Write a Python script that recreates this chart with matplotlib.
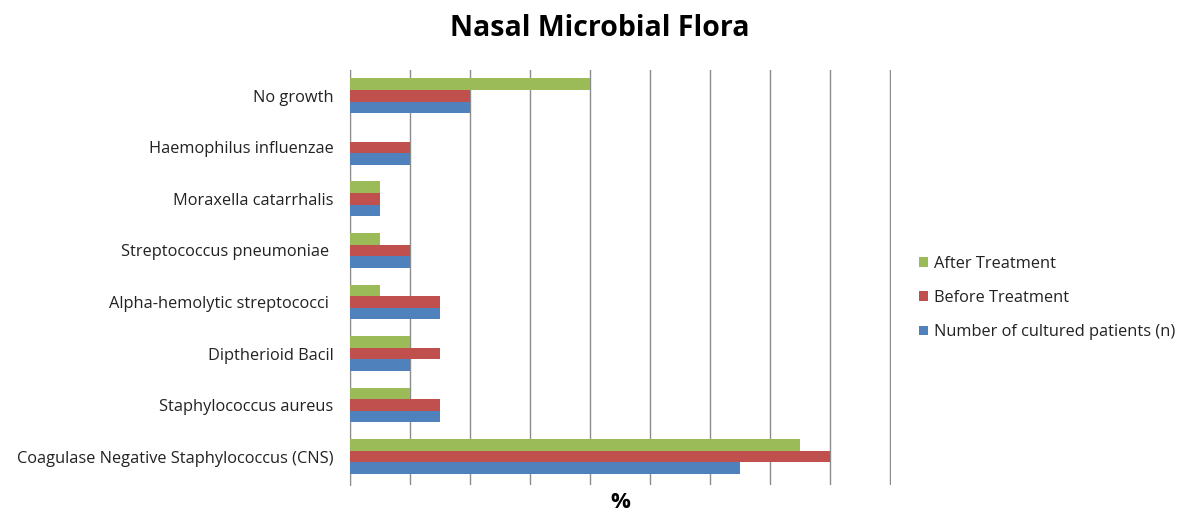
import numpy as np
import matplotlib.pyplot as plt

plt.rcParams['font.family'] = ['Open Sans', 'DejaVu Sans']

categories = ["Coagulase Negative Staphylococcus (CNS)", "Staphylococcus aureus",
              "Diptherioid Bacil", "Alpha-hemolytic streptococci ",
              "Streptococcus pneumoniae ", "Moraxella catarrhalis",
              "Haemophilus influenzae", "No growth"]
n_cultured = [32.5, 7.5, 5, 7.5, 5, 2.5, 5, 10]
before = [40, 7.5, 7.5, 7.5, 5, 2.5, 5, 10]
after = [37.5, 5, 5, 2.5, 2.5, 2.5, 0, 20]

green = "#9BBB59"
red = "#C0504D"
blue = "#4F81BD"

fig = plt.figure(figsize=(11.8, 5.14), dpi=100)
ax = fig.add_axes([350 / 1180, 1 - 485 / 514, 541 / 1180, 415 / 514])

y = np.arange(len(categories))
h = 0.225
ax.barh(y - h, n_cultured, height=h, color=blue, label="Number of cultured patients (n)", zorder=3)
ax.barh(y, before, height=h, color=red, label="Before Treatment", zorder=3)
ax.barh(y + h, after, height=h, color=green, label="After Treatment", zorder=3)

ax.set_xlim(0, 45.08)
ax.set_ylim(-0.55, 7.5)
ax.set_xticks(np.arange(0, 46, 5))
ax.set_xticklabels([])
ax.tick_params(axis='x', length=0)
ax.tick_params(axis='y', length=0, labelsize=11.8, pad=12, labelcolor="#222222")
ax.set_yticks(y)
ax.set_yticklabels(categories)
ax.grid(axis='x', color="#8c8c8c", linewidth=1, zorder=0)
for s in ["top", "right", "bottom"]:
    ax.spines[s].set_visible(False)
ax.spines["left"].set_color("#8c8c8c")

handles, labels = ax.get_legend_handles_labels()
fig.legend(handles[::-1], labels[::-1], loc="center left", bbox_to_anchor=(904 / 1180, 1 - 298 / 514),
           frameon=False, fontsize=11.8, handlelength=0.55, handleheight=0.55,
           handletextpad=0.4, labelspacing=1.12, labelcolor="#222222")

fig.text(600 / 1180, 1 - 28 / 514, "Nasal Microbial Flora", ha="center", va="center",
         fontsize=20.5, fontweight="bold")
fig.text(620 / 1180, 1 - 503 / 514, "%", ha="center", va="center",
         fontsize=16, fontweight="bold")

fig.savefig("out.png", dpi=100)
